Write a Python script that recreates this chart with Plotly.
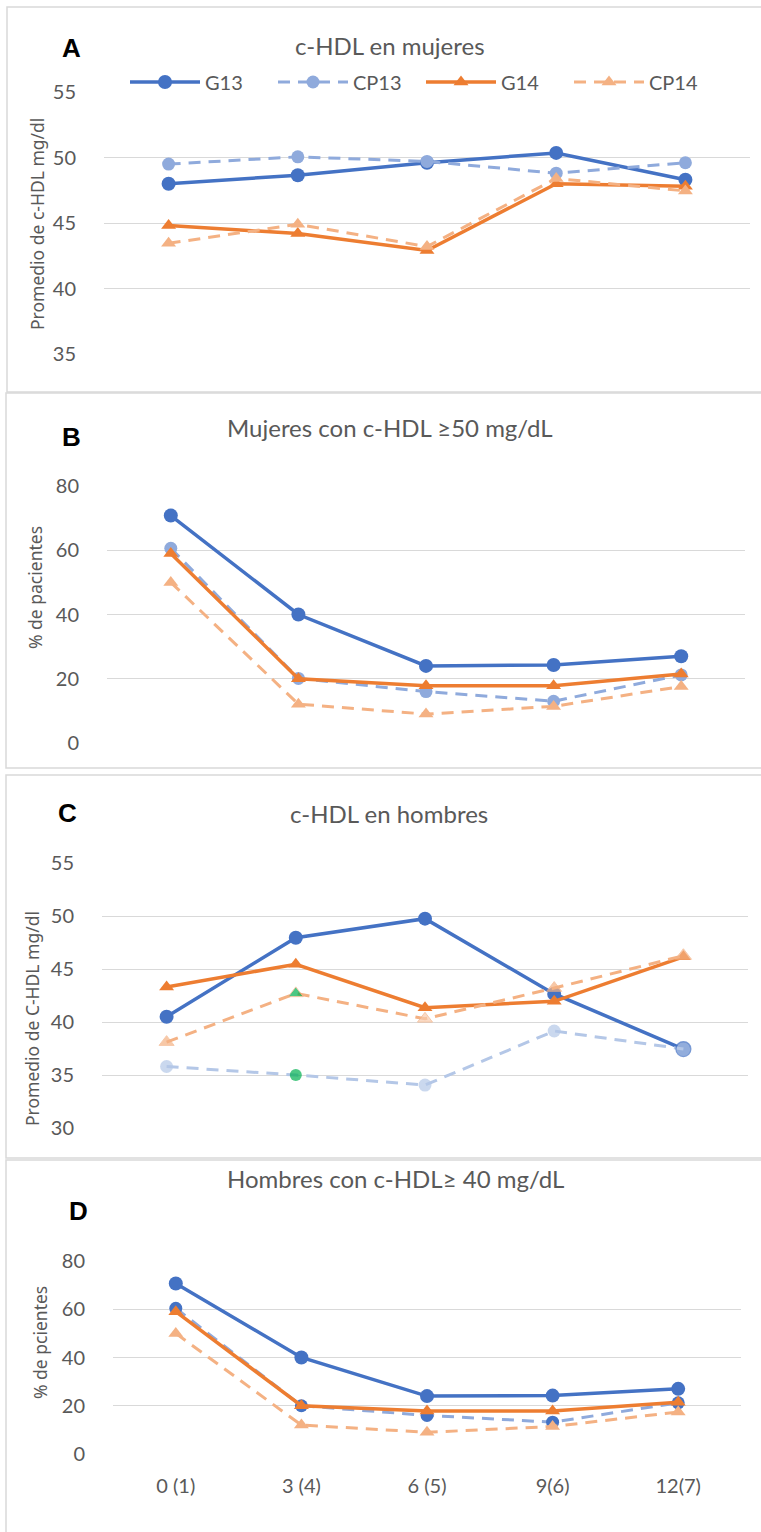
import plotly.graph_objects as go

W, H = 761, 1532

categories = ["0 (1)", "3 (4)", "6 (5)", "9(6)", "12(7)"]
series_names = ["G13", "CP13", "G14", "CP14"]

# Panel A: c-HDL en mujeres (mg/dl)
a_G13 = [48.0, 48.65, 49.6, 50.35, 48.3]
a_CP13 = [49.5, 50.05, 49.7, 48.8, 49.6]
a_G14 = [44.8, 44.2, 42.9, 48.0, 47.8]
a_CP14 = [43.45, 44.9, 43.2, 48.4, 47.45]

# Panel B: Mujeres con c-HDL >=50 (% pacientes)
b_G13 = [70.8, 40.0, 24.0, 24.3, 27.0]
b_CP13 = [60.6, 20.1, 16.0, 13.0, 21.2]
b_G14 = [59.0, 20.0, 17.8, 17.8, 21.5]
b_CP14 = [50.0, 12.1, 9.0, 11.4, 17.6]

# Panel C: c-HDL en hombres (mg/dl)
c_G13 = [40.5, 47.95, 49.75, 42.65, 37.45]
c_CP13 = [35.8, 35.0, 34.05, 39.15, 37.45]
c_G14 = [43.3, 45.45, 41.35, 41.95, 46.15]
c_CP14 = [38.1, 42.7, 40.3, 43.2, 46.25]

# Panel D: Hombres con c-HDL >=40 (% pacientes)
d_G13 = [70.7, 40.0, 24.0, 24.2, 27.0]
d_CP13 = [60.4, 20.0, 16.0, 13.2, 21.2]
d_G14 = [59.0, 20.0, 17.8, 17.8, 21.5]
d_CP14 = [50.0, 12.0, 9.0, 11.4, 17.4]

BLUE = "#4472C4"
LBLUE = "#8FAADC"
LLBLUE = "#B4C7E7"
ORANGE = "#ED7D31"
LORANGE = "#F4B183"
LLORANGE = "#F8CBAD"
GREEN = "#00B050"
GRID = "#D9D9D9"
TXT = "#595959"
TICKFONT = dict(family="Lato", size=20, color=TXT)

def py(px):
    return 1 - px / H

def px_x(px):
    return px / W

# panel geometry (pixels): x-left, x-right, y-top (max gridline), y-bottom (min gridline)
panels = [
    dict(x0=104, x1=750, yt=92, yb=354, rng=[35, 55], dtick=5),
    dict(x0=107, x1=745, yt=486, yb=743, rng=[0, 80], dtick=20),
    dict(x0=102, x1=748, yt=863, yb=1128, rng=[30, 55], dtick=5),
    dict(x0=113, x1=741, yt=1261, yb=1454, rng=[0, 80], dtick=20),
]

fig = go.Figure()

def add_panel(i, g13, cp13, g14, cp14, cp13_marker=None, cp14_marker=None, cp13_mline=None):
    xa = "x" if i == 0 else f"x{i+1}"
    ya = "y" if i == 0 else f"y{i+1}"
    show = i == 0
    fig.add_trace(go.Scatter(x=categories, y=g13, name="G13", mode="lines+markers",
                             line=dict(color=BLUE, width=3.5),
                             marker=dict(symbol="circle", size=14, color=BLUE),
                             xaxis=xa, yaxis=ya, showlegend=show, legendgroup="G13"))
    fig.add_trace(go.Scatter(x=categories, y=cp13, name="CP13", mode="lines+markers",
                             line=dict(color=cp13_marker["line"] if cp13_marker else LBLUE, width=3, dash="12px,8px"),
                             marker=dict(symbol="circle", size=cp13_marker["size"] if cp13_marker else 13,
                                         color=cp13_marker["color"] if cp13_marker else LBLUE,
                                         line=cp13_mline or dict(width=0)),
                             xaxis=xa, yaxis=ya, showlegend=show, legendgroup="CP13"))
    fig.add_trace(go.Scatter(x=categories, y=g14, name="G14", mode="lines+markers",
                             line=dict(color=ORANGE, width=3.5),
                             marker=dict(symbol="triangle-up", size=13, color=ORANGE),
                             xaxis=xa, yaxis=ya, showlegend=show, legendgroup="G14"))
    fig.add_trace(go.Scatter(x=categories, y=cp14, name="CP14", mode="lines+markers",
                             line=dict(color=LORANGE, width=3, dash="12px,8px"),
                             marker=dict(symbol="triangle-up", size=cp14_marker["size"] if cp14_marker else 13,
                                         color=cp14_marker["color"] if cp14_marker else LORANGE),
                             xaxis=xa, yaxis=ya, showlegend=show, legendgroup="CP14"))

add_panel(0, a_G13, a_CP13, a_G14, a_CP14)
add_panel(1, b_G13, b_CP13, b_G14, b_CP14)
add_panel(2, c_G13, c_CP13, c_G14, c_CP14,
          cp13_marker=dict(line=LLBLUE, size=[13, 12, 13, 13, 15],
                           color=[LLBLUE, GREEN, LLBLUE, LLBLUE, LLBLUE]),
          cp14_marker=dict(size=[13, 13, 13, 13, 14],
                           color=[LORANGE, GREEN, LLORANGE, LORANGE, LORANGE]),
          cp13_mline=dict(width=[0, 0, 0, 0, 1.2], color=BLUE))
add_panel(3, d_G13, d_CP13, d_G14, d_CP14,
          cp13_marker=dict(line=LBLUE, size=13, color=[BLUE, BLUE, BLUE, BLUE, BLUE]))

layout = dict(
    width=W, height=H, margin=dict(l=0, r=0, t=0, b=0, pad=0, autoexpand=False),
    paper_bgcolor="white", plot_bgcolor="white",
    showlegend=True,
    legend=dict(orientation="h", x=px_x(125), xanchor="left", y=py(82), yanchor="middle",
                font=dict(family="Lato", size=20, color=TXT), itemwidth=70,
                entrywidth=63, bgcolor="rgba(0,0,0,0)", tracegroupgap=0),
)

for i, p in enumerate(panels):
    xk = "xaxis" if i == 0 else f"xaxis{i+1}"
    yk = "yaxis" if i == 0 else f"yaxis{i+1}"
    ya = "y" if i == 0 else f"y{i+1}"
    xa = "x" if i == 0 else f"x{i+1}"
    layout[xk] = dict(domain=[px_x(p["x0"]), px_x(p["x1"])], anchor=ya, type="category",
                      categoryorder="array", categoryarray=categories, automargin=False,
                      range=[-0.5, 4.5], showgrid=False, zeroline=False, showline=False,
                      showticklabels=(i == 3), ticks="outside" if i == 3 else "",
                      ticklen=14, tickcolor="rgba(0,0,0,0)", tickfont=TICKFONT, fixedrange=True)
    layout[yk] = dict(domain=[py(p["yb"]), py(p["yt"])], anchor=xa, range=p["rng"], dtick=p["dtick"],
                      tick0=0, showgrid=True, gridcolor=GRID, gridwidth=1.3, zeroline=False,
                      automargin=False,
                      showline=False, ticks="outside", ticklen=23, tickcolor="rgba(0,0,0,0)",
                      tickfont=TICKFONT, fixedrange=True)

fig.update_layout(**layout)

# Panel frames
frames = [(7, 7, 392), (6, 393, 768), (6, 775, 1158), (6, 1160, 1545)]
for x0, y0, y1 in frames:
    fig.add_shape(type="rect", xref="paper", yref="paper",
                  x0=px_x(x0), x1=px_x(775), y0=py(y1), y1=py(y0),
                  line=dict(color=GRID, width=1.5), fillcolor="rgba(0,0,0,0)", layer="below")

# Panel letters
letters = [("A", 71, 48), ("B", 71, 437), ("C", 67, 813), ("D", 78, 1211)]
for t, x, y in letters:
    fig.add_annotation(text=f"<b>{t}</b>", xref="paper", yref="paper", x=px_x(x), y=py(y),
                       showarrow=False, xanchor="center", yanchor="middle",
                       font=dict(family="Liberation Sans", size=26, color="black"))

# Titles
titles = [("c-HDL en mujeres", 390, 46), ("Mujeres con c-HDL ≥50 mg/dL", 390, 427),
          ("c-HDL en hombres", 389, 813), ("Hombres con c-HDL≥ 40 mg/dL", 395, 1178)]
for t, x, y in titles:
    fig.add_annotation(text=t, xref="paper", yref="paper", x=px_x(x), y=py(y),
                       showarrow=False, xanchor="center", yanchor="middle",
                       font=dict(family="Lato", size=24, color=TXT))

# Y-axis titles
ytitles = [("Promedio de c-HDL mg/dl", 37, 224), ("% de pacientes", 35, 588),
           ("Promedio de C-HDL mg/dl", 32, 1019), ("% de pcientes", 40, 1343)]
for t, x, y in ytitles:
    fig.add_annotation(text=t, xref="paper", yref="paper", x=px_x(x), y=py(y),
                       showarrow=False, xanchor="center", yanchor="middle", textangle=-90,
                       font=dict(family="Noto Sans", size=17.5, color=TXT))

fig.write_html("out.html")
